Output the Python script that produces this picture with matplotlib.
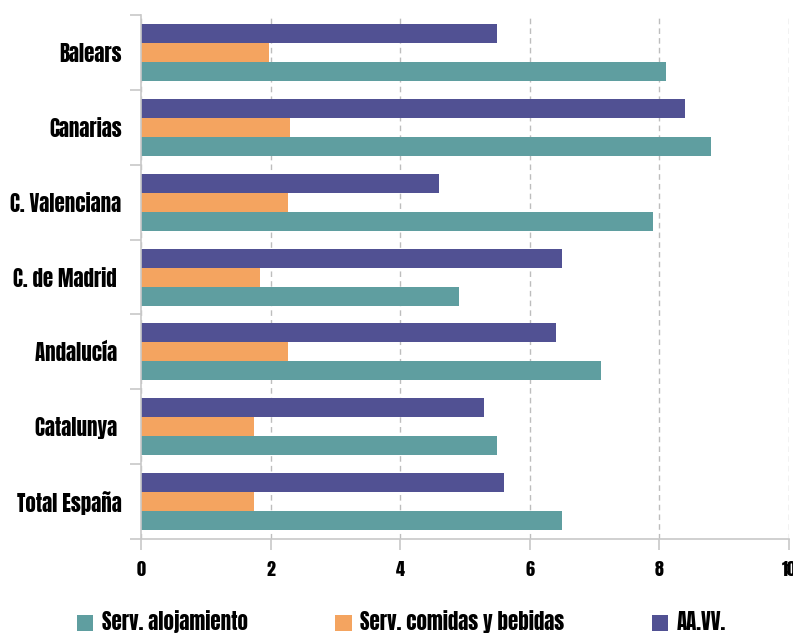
import numpy as np
import matplotlib
matplotlib.use("Agg")
import matplotlib.pyplot as plt
from matplotlib import font_manager
from matplotlib.patches import Patch

# Data
regions = ["Balears", "Canarias", "C. Valenciana", "C. de Madrid ", "Andalucía ", "Catalunya ", "Total España"]
alojamiento = [8.1, 8.8, 7.9, 4.9, 7.1, 5.5, 6.5]
comidas = [1.97, 2.3, 2.27, 1.83, 2.27, 1.74, 1.74]
aavv = [5.5, 8.4, 4.6, 6.5, 6.4, 5.3, 5.6]
series_names = ["Serv. alojamiento", "Serv. comidas y bebidas", "AA.VV."]
colors = ["#5f9ea0", "#f4a460", "#515193"]
xticks = [0, 2, 4, 6, 8, 10]

# condensed display font, first one that is installed
names = {f.name for f in font_manager.fontManager.ttflist}
fam = next((n for n in ["Anton", "League Gothic", "Fjalla One", "Barlow Condensed"] if n in names),
           "DejaVu Sans")
font = dict(family=fam)

fig = plt.figure(figsize=(7.93, 6.34), dpi=100)
ax = fig.add_axes([0.1778, 0.1498, 0.8172, 0.8265])

y = np.arange(len(regions))
h = 0.254
ax.barh(y + h, alojamiento, height=h, color=colors[0])
ax.barh(y, comidas, height=h, color=colors[1])
ax.barh(y - h, aavv, height=h, color=colors[2])

ax.set_xlim(0, 10)
ax.set_ylim(len(regions) - 0.5, -0.5)

ax.set_xticks(xticks)
ax.set_xticklabels([str(t) for t in xticks], **font, fontsize=13)
ax.set_yticks(y)
ax.set_yticklabels(regions, **font, fontsize=15)
ax.set_yticks(np.arange(len(regions) + 1) - 0.5, minor=True)

ax.tick_params(axis="y", which="major", length=0, pad=14)
ax.tick_params(axis="y", which="minor", length=8, color="#c8c8c8", width=1.2)
ax.tick_params(axis="x", length=8, color="#c8c8c8", width=1.2, pad=8)

ax.grid(axis="x", color="#bdbdbd", linestyle=(0, (4, 3)), linewidth=1)
ax.set_axisbelow(True)
for s in ["top", "right"]:
    ax.spines[s].set_visible(False)
for s in ["left", "bottom"]:
    ax.spines[s].set_color("#c8c8c8")
    ax.spines[s].set_linewidth(1.2)

handles = [Patch(facecolor=c, edgecolor="none") for c in colors]
fig.legend(handles, series_names, loc="center", bbox_to_anchor=(0.506, 1 - 622 / 634),
           ncol=3, frameon=False, prop=font_manager.FontProperties(size=15, **font),
           handlelength=0.8, handleheight=0.8, handletextpad=0.4, columnspacing=4.2)

fig.savefig("out.png", dpi=100)
